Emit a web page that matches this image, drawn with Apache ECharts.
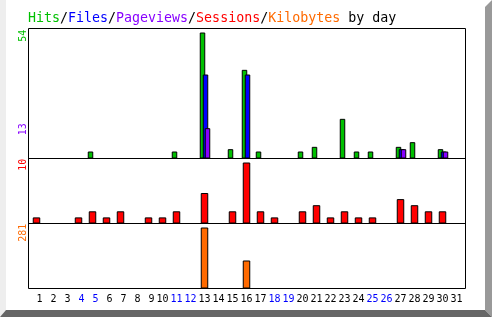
<!DOCTYPE html>
<html><head><meta charset="utf-8">
<script src="https://cdn.jsdelivr.net/npm/echarts@6/dist/echarts.min.js"></script>
<style>html,body{margin:0;padding:0;background:#fff}#c{width:492px;height:317px}</style>
</head><body><div id="c"></div><script>
// ---- data ----
const days = ['1','2','3','4','5','6','7','8','9','10','11','12','13','14','15','16','17','18','19','20','21','22','23','24','25','26','27','28','29','30','31'];
const weekendDays = ['4','5','11','12','18','19','25','26'];
const hits      = [0,0,0,0,3,0,0,0,0,0,3,0,54,0,4,38,3,0,0,3,5,0,17,3,3,0,5,7,0,4,0];
const files     = [0,0,0,0,0,0,0,0,0,0,0,0,36,0,0,36,0,0,0,0,0,0,0,0,0,0,4,0,0,3,0];
const pageviews = [0,0,0,0,0,0,0,0,0,0,0,0,13,0,0,0,0,0,0,0,0,0,0,0,0,0,4,0,0,3,0];
const sessions  = [1,0,0,1,2,1,2,0,1,1,2,0,5,0,2,10,2,1,0,2,3,1,2,1,1,0,4,3,2,2,0];
const kilobytes = [0,0,0,0,0,0,0,0,0,0,0,0,281,0,0,129,0,0,0,0,0,0,0,0,0,0,0,0,0,0,0];

const C = {hits:'#00c000', files:'#0000ff', pages:'#8800ff', sess:'#ff0000', kb:'#ff6a00'};
const FONT = '"DejaVu Sans Mono", "Liberation Mono", monospace';

const chart = echarts.init(document.getElementById('c'), null, {renderer:'canvas'});
const nz = a => a.map(v => v === 0 ? '-' : v);
const peakMax = (a, h) => Math.max(...a) * h / (h - 4);

const topMax = peakMax(hits, 130);
const grids = [
  {left:27.5, top:28.5, width:434, height:130},   // hits
  {left:30.5, top:28.5, width:434, height:130},   // files
  {left:32.5, top:28.5, width:434, height:130},   // pageviews
  {left:29.5, top:158.5, width:434, height:65},   // sessions
  {left:29.5, top:223.5, width:434, height:65}    // kilobytes
];
const xAxes = grids.map((g, i) => ({
  type:'category', gridIndex:i, data:days, boundaryGap:true,
  axisLine:{show:false}, axisTick:{show:false}, splitLine:{show:false},
  axisLabel: i === 4 ? {
    show:true, interval:0, margin:6,
    formatter: v => {
      const t = v.length < 2 ? ' ' + v : v;
      return weekendDays.includes(v) ? '{w|' + t + '}' : '{n|' + t + '}';
    },
    rich:{
      n:{color:'#000', fontFamily:FONT, fontSize:10, lineHeight:10},
      w:{color:'#0000ff', fontFamily:FONT, fontSize:10, lineHeight:10}
    }
  } : {show:false}
}));
const yMax = [topMax, topMax, topMax, peakMax(sessions, 65), peakMax(kilobytes, 65)];
const yAxes = grids.map((g, i) => ({
  type:'value', gridIndex:i, min:0, max:yMax[i], show:false
}));
const bar = (name, data, i, color, w) => ({
  name, type:'bar', xAxisIndex:i, yAxisIndex:i, data:nz(data), barWidth:w,
  itemStyle:{color, borderColor:'#000', borderWidth:1}, silent:true, animation:false
});

const rot = (text, x, y, color) => ({
  type:'text', x, y, rotation:Math.PI/2, z:10,
  style:{text, fill:color, font:'10px ' + FONT, align:'center', verticalAlign:'middle'}
});

chart.setOption({
  animation:false,
  backgroundColor:'#fff',
  title:{
    left:28, top:12, padding:0,
    text:'{g|Hits}{k|/}{b|Files}{k|/}{p|Pageviews}{k|/}{r|Sessions}{k|/}{o|Kilobytes}{k| by day}',
    textStyle:{fontFamily:FONT, fontSize:13.3, fontWeight:'normal', lineHeight:14,
      rich:{
        g:{color:C.hits, fontFamily:FONT, fontSize:13.3, lineHeight:14},
        b:{color:C.files, fontFamily:FONT, fontSize:13.3, lineHeight:14},
        p:{color:C.pages, fontFamily:FONT, fontSize:13.3, lineHeight:14},
        r:{color:C.sess, fontFamily:FONT, fontSize:13.3, lineHeight:14},
        o:{color:C.kb, fontFamily:FONT, fontSize:13.3, lineHeight:14},
        k:{color:'#000', fontFamily:FONT, fontSize:13.3, lineHeight:14}
      }}
  },
  grid:grids.map(g => Object.assign({containLabel:false, show:false}, g)),
  xAxis:xAxes,
  yAxis:yAxes,
  series:[
    bar('Hits', hits, 0, C.hits, 5.5),
    bar('Files', files, 1, C.files, 5.5),
    bar('Pageviews', pageviews, 2, C.pages, 5.5),
    bar('Sessions', sessions, 3, C.sess, 7.5),
    bar('Kilobytes', kilobytes, 4, C.kb, 7.5)
  ],
  graphic:[
    // frame bevels
    {type:'polygon', z:0, shape:{points:[[0,0],[6,0],[6,310],[0,317]]}, style:{fill:'#eeeeee'}},
    {type:'polygon', z:0, shape:{points:[[485,7],[492,0],[492,317],[485,310]]}, style:{fill:'#999999'}},
    {type:'polygon', z:0, shape:{points:[[0,317],[6,310],[485,310],[492,317]]}, style:{fill:'#666666'}},
    // plot frame and dividers
    {type:'rect', z:5, shape:{x:28.5, y:28.5, width:437, height:260}, style:{fill:null, stroke:'#000', lineWidth:1}},
    {type:'line', z:5, shape:{x1:28.5, y1:158.5, x2:465.5, y2:158.5}, style:{stroke:'#000', lineWidth:1}},
    {type:'line', z:5, shape:{x1:28.5, y1:223.5, x2:465.5, y2:223.5}, style:{stroke:'#000', lineWidth:1}},
    // peak labels
    rot(String(Math.max(...hits)), 23.5, 35.8, C.hits),
    rot(String(Math.max(...pageviews)), 23.5, 129.2, C.pages),
    rot(String(Math.max(...sessions)), 23.5, 164.8, C.sess),
    rot(String(Math.max(...kilobytes)), 23, 232.8, C.kb)
  ]
});
</script></body></html>
